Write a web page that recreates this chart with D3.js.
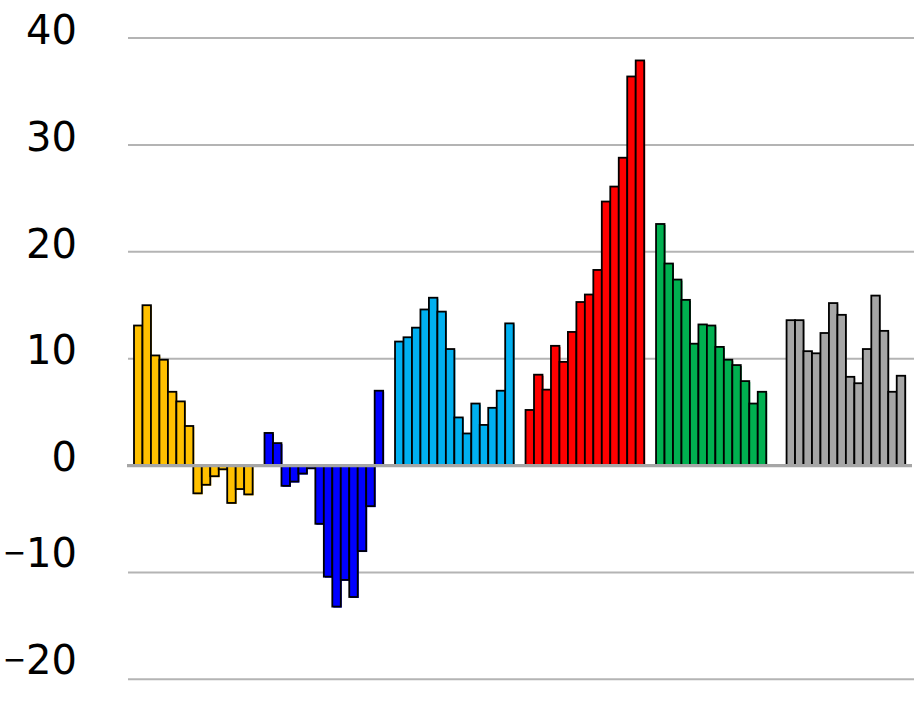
<!DOCTYPE html>
<html>
<head>
<meta charset="utf-8">
<script src="https://cdn.jsdelivr.net/npm/d3@7"></script>
<style>
  html, body { margin: 0; padding: 0; background: #fff; }
  svg { display: block; }
</style>
</head>
<body>
<div id="chart"></div>
<script>
// ---- data ----
const groups = ["G1", "G2", "G3", "G4", "G5", "G6"];
const yellowValues = [13.1, 15.0, 10.3, 9.9, 6.9, 6.0, 3.7, -2.6, -1.8, -1.0, -0.35, -3.5, -2.2, -2.7];
const blueValues = [3.05, 2.1, -1.9, -1.5, -0.75, -0.25, -5.45, -10.4, -13.2, -10.7, -12.3, -8.0, -3.8, 7.0];
const lightBlueValues = [11.6, 12.0, 12.9, 14.6, 15.7, 14.4, 10.9, 4.5, 3.0, 5.8, 3.8, 5.4, 7.0, 13.3];
const redValues = [5.2, 8.5, 7.1, 11.2, 9.7, 12.5, 15.3, 16.0, 18.3, 24.7, 26.1, 28.8, 36.4, 37.9];
const greenValues = [22.6, 18.9, 17.4, 15.5, 11.4, 13.2, 13.1, 11.1, 9.9, 9.4, 7.9, 5.8, 6.9, null];
const grayValues = [13.6, 13.6, 10.7, 10.5, 12.4, 15.2, 14.1, 8.3, 7.7, 10.9, 15.9, 12.6, 6.9, 8.4];
const tickValues = [-20, -10, 0, 10, 20, 30, 40];

const seriesValues = [yellowValues, blueValues, lightBlueValues, redValues, greenValues, grayValues];
const colors = ["#FFC000", "#0000FF", "#00B0F0", "#FF0000", "#00B050", "#A6A6A6"];

// ---- layout ----
const W = 914, H = 707;
const svg = d3.select("#chart").append("svg").attr("width", W).attr("height", H);

const y = d3.scaleLinear().domain([-20, 40]).range([679.3, 38]);
const xOuter = d3.scaleBand().domain(groups).range([134, 905.2]).paddingInner(0.091).paddingOuter(0);
const xInner = d3.scaleBand().domain(d3.range(14)).range([0, xOuter.bandwidth()]).padding(0);

// gridlines
svg.append("g").selectAll("line")
  .data(tickValues.filter(t => t !== 0))
  .join("line")
  .attr("x1", 128).attr("x2", W)
  .attr("y1", d => y(d)).attr("y2", d => y(d))
  .attr("stroke", "#B4B4B4").attr("stroke-width", 2);

// y axis labels
const axis = svg.append("g").attr("transform", "translate(77,-7.5)")
  .call(d3.axisLeft(y).tickValues(tickValues).tickSize(0).tickPadding(0).tickFormat(d3.format("d")));
axis.select(".domain").remove();
axis.selectAll("text")
  .attr("font-family", "'DejaVu Sans', sans-serif")
  .attr("font-size", 40)
  .attr("fill", "#000")
  .each(function(d) {
    if (d < 0) {
      const t = d3.select(this);
      t.text(null);
      t.append("tspan").attr("font-size", 28).attr("dy", "-0.12em").text("\u2212");
      t.append("tspan").attr("dy", "0.12em").text(String(Math.abs(d)));
    }
  });

// bars
const flat = [];
seriesValues.forEach((vals, gi) => vals.forEach((v, i) => {
  if (v !== null) flat.push({ g: groups[gi], gi, i, v });
}));

const barG = svg.append("g");
// colored offset fill
barG.selectAll("rect.shadow").data(flat).join("rect")
  .attr("class", "shadow")
  .attr("x", d => xOuter(d.g) + xInner(d.i) + 1)
  .attr("y", d => y(Math.max(0, d.v)) + 1)
  .attr("width", xInner.bandwidth())
  .attr("height", d => Math.abs(y(d.v) - y(0)))
  .attr("fill", d => colors[d.gi]);
barG.selectAll("rect.bar").data(flat).join("rect")
  .attr("class", "bar")
  .attr("x", d => xOuter(d.g) + xInner(d.i))
  .attr("y", d => y(Math.max(0, d.v)))
  .attr("width", xInner.bandwidth())
  .attr("height", d => Math.abs(y(d.v) - y(0)))
  .attr("fill", d => colors[d.gi])
  .attr("stroke", "#000")
  .attr("stroke-width", 1.8);

// zero line
svg.append("line")
  .attr("x1", 127).attr("x2", 912)
  .attr("y1", y(0)).attr("y2", y(0))
  .attr("stroke", "#A6A6A6").attr("stroke-width", 3.3);
</script>
</body>
</html>
